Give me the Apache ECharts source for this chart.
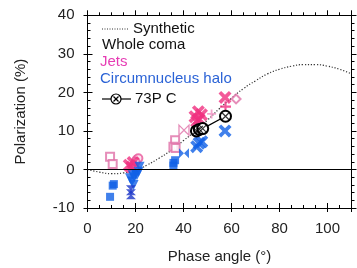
<!DOCTYPE html>
<html><head><meta charset="utf-8">
<script src="https://cdn.jsdelivr.net/npm/echarts@6/dist/echarts.min.js"></script>
<style>html,body{margin:0;padding:0;background:#fff}#c{width:357px;height:268px}</style>
</head><body><div id="c"></div>
<script>
// Synthetic curve
const synX = [0,5,10,15,20,25,30,35,40,45,50,55,60,65,70,75,80,85,90,95,100,105,110];
const synY = [0,-0.7,-1.1,-0.9,-0.3,1.2,3,5,7.5,10,12.8,15.8,18.5,21,23,24.8,26,26.8,27.2,27.2,26.8,26,24.8];
// Jets (pink)
const jetSquares = [[9.4,3.3],[10.5,1.4],[36.5,7.6],[35.8,5.9],[36.7,5.6]];
const jetCross = [[17.4,1.1],[18.5,0.6],[19.0,1.8],[44.8,13.7],[46.2,15.0],[45.5,12.5],[47.5,14.2],[46.5,13.0],[57.3,18.7]];
const jetPlus = [[57.5,16.3]];
const jetPlusLight = [[51.7,14.4]];
const jetBowtie = [[40.2,10.2]];
const jetDiamond = [[61.9,18.3]];
const jetHour = [[20.5,2.6],[21.2,2.9],[20.0,2.0]];
// Circumnucleus halo (blue)
const haloSquares = [[9.4,-7.1],[10.5,-4.2],[11.0,-3.8],[35.8,1.7],[36.5,2.4],[35.8,1.0]];
const haloTri = [[17.7,-2.3],[18.5,-3.1],[19.2,-4.0],[20.6,-1.5],[21.3,-0.6],[21.7,0.7],[19.5,-2.0],[20.0,-1.2],[18.8,-1.5]];
const haloHour = [[18.1,-5.4],[18.1,-6.4]];
const haloCross = [[46.5,6.8],[45.5,5.9],[47.6,7.2],[57.3,10.0]];
const haloBowtie = [[40.2,4.2]];
// 73P C whole coma
const c73P = [[45.4,10.0],[46.6,10.4],[48.0,10.6],[57.5,13.8]];

const xTicks = [0,20,40,60,80,100];
const yTicks = [-10,0,10,20,30,40];

const PINK = '#f0307f', LPINK = '#e070a8', BLUE = '#1060e6', DBLUE = '#1a35c8';
const XPATH = 'path://M0,2 L2,0 L5,3 L8,0 L10,2 L7,5 L10,8 L8,10 L5,7 L2,10 L0,8 L3,5 Z';
const PLUS = 'path://M4,0 L6,0 L6,4 L10,4 L10,6 L6,6 L6,10 L4,10 L4,6 L0,6 L0,4 L4,4 Z';
const BOW = 'path://M0,0 L5,5 L0,10 Z M10,0 L5,5 L10,10 Z';
const HOUR = 'path://M0,0 L10,0 L5,5 Z M0,10 L10,10 L5,5 Z';
const THINX = 'path://M0,0 L10,10 M10,0 L0,10';
const FONT = 'Liberation Sans';

function ax(base, extra){
  return Object.assign({type:'value', splitLine:{show:false}, axisLabel:{show:false},
    axisLine:{show:false, onZero:false}}, base, extra);
}
const xr = {min:0, max:110};
const yr = {min:-10, max:40};
const line = {show:true, onZero:false, lineStyle:{color:'#000', width:1}};
const tk = (len, inside) => ({show:true, length:len, inside:inside, lineStyle:{color:'#000', width:1}});

const chart = echarts.init(document.getElementById('c'));
function sc(name, data, symbol, size, itemStyle, extra){
  return Object.assign({type:'scatter', name, data, symbol, symbolSize:size, itemStyle, z:3}, extra||{});
}
chart.setOption({
  animation:false,
  textStyle:{fontFamily:FONT},
  grid:{left:87.5, right:5.5, top:15.3, bottom:60, outerBoundsMode:'none'},
  xAxis:[
    ax(xr,{position:'bottom', interval:20, axisLine:line, axisTick:tk(4,false),
      axisLabel:{show:true, fontSize:15, color:'#222', margin:13, fontFamily:FONT, formatter:v=>xTicks.includes(v)?String(v):''},
      name:'Phase angle (°)', nameLocation:'middle', nameGap:41, nameTextStyle:{fontSize:15, color:'#222', fontFamily:FONT}}),
    ax(xr,{position:'bottom', interval:20, axisTick:tk(5,true)}),
    ax(xr,{position:'bottom', interval:5, axisTick:tk(3,true)}),
    ax(xr,{position:'top', interval:20, axisLine:line, axisTick:tk(5,false)}),
    ax(xr,{position:'top', interval:5, axisTick:tk(3,false)})
  ],
  yAxis:[
    ax(yr,{position:'left', interval:10, axisLine:line, axisTick:tk(4,false),
      axisLabel:{show:true, fontSize:15, color:'#222', margin:13, fontFamily:FONT, formatter:v=>yTicks.includes(v)?String(v):''},
      name:'Polarization (%)', nameLocation:'middle', nameGap:59, nameTextStyle:{fontSize:15, color:'#222', fontFamily:FONT}}),
    ax(yr,{position:'left', interval:10, axisTick:tk(5,true)}),
    ax(yr,{position:'left', interval:2, axisTick:tk(3,true)}),
    ax(yr,{position:'right', interval:10, axisLine:line, axisTick:tk(5,false)}),
    ax(yr,{position:'right', interval:2, axisTick:tk(3,false)})
  ],
  series:[
    {type:'line', name:'Synthetic', data:synX.map((x,i)=>[x,synY[i]]), showSymbol:false, smooth:true,
     lineStyle:{color:'#333', width:1.2, type:[1.2,1.8]}, z:2,
     markLine:{silent:true, symbol:'none', label:{show:false}, lineStyle:{color:'#000', width:1.2, type:'solid'}, data:[{yAxis:0}]}},
    sc('Jets squares', jetSquares, 'emptyRect', 8, {color:LPINK, borderWidth:1.5}),
    sc('Jets bowtie', jetBowtie, BOW, 10, {color:'transparent', borderColor:LPINK, borderWidth:1.3}),
    sc('Jets diamond', jetDiamond, 'emptyDiamond', 9, {color:LPINK, borderWidth:1.3}),
    sc('Jets plus light', jetPlusLight, PLUS, 9, {color:'#f090c0'}),
    sc('Jets hour', jetHour, 'emptyCircle', 8, {color:'#e8559a', borderWidth:2}),
    sc('Jets cross', jetCross, XPATH, 13, {color:PINK}),
    sc('Jets plus', jetPlus, PLUS, 11, {color:PINK}),
    sc('Halo squares', haloSquares, 'rect', 8, {color:BLUE}),
    sc('Halo tri', haloTri, 'triangle', 10, {color:BLUE}, {symbolRotate:180}),
    sc('Halo hour', haloHour, HOUR, 10, {color:DBLUE}),
    sc('Halo cross', haloCross, XPATH, 13, {color:BLUE}),
    sc('Halo bowtie', haloBowtie, BOW, 10, {color:BLUE}),
    {type:'line', name:'73P C', data:c73P, symbol:'emptyCircle', symbolSize:11, lineStyle:{color:'#000', width:1.2},
     itemStyle:{color:'#000', borderWidth:1.2}, z:5},
    sc('73P C x', c73P, THINX, 7, {color:'transparent', borderColor:'#000', borderWidth:1.2}, {z:6})
  ],
  graphic:[
    {type:'line', shape:{x1:102, y1:29, x2:129, y2:29}, style:{stroke:'#333', lineWidth:1, lineDash:[1,1.5]}},
    {type:'text', left:133, top:21, style:{text:'Synthetic', font:'15px "'+FONT+'"', fill:'#111'}},
    {type:'text', left:102, top:37, style:{text:'Whole coma', font:'15px "'+FONT+'"', fill:'#111'}},
    {type:'text', left:100, top:54, style:{text:'Jets', font:'15px "'+FONT+'"', fill:'#e63cb4'}},
    {type:'text', left:100, top:71, style:{text:'Circumnucleus halo', font:'15px "'+FONT+'"', fill:'#2b63d6'}},
    {type:'line', shape:{x1:102, y1:99, x2:131, y2:99}, style:{stroke:'#000', lineWidth:1.2}},
    {type:'circle', shape:{cx:116, cy:99, r:5}, style:{fill:'#fff', stroke:'#000', lineWidth:1.2}},
    {type:'line', shape:{x1:113.5, y1:96.5, x2:118.5, y2:101.5}, style:{stroke:'#000', lineWidth:1.2}},
    {type:'line', shape:{x1:118.5, y1:96.5, x2:113.5, y2:101.5}, style:{stroke:'#000', lineWidth:1.2}},
    {type:'text', left:135, top:91, style:{text:'73P C', font:'15px "'+FONT+'"', fill:'#111'}}
  ]
});
</script></body></html>
